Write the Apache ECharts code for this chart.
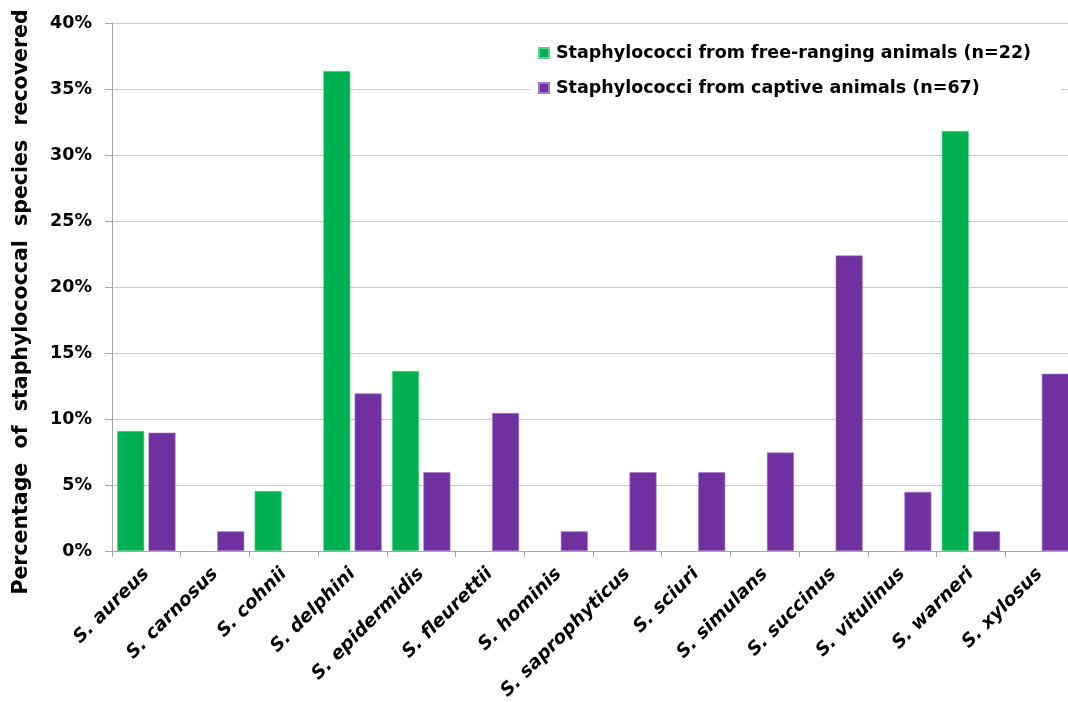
<!DOCTYPE html>
<html>
<head>
<meta charset="utf-8">
<script src="https://cdn.jsdelivr.net/npm/echarts@6/dist/echarts.min.js"></script>
<style>
  html, body { margin: 0; padding: 0; background: #fff; }
  #chart { width: 1068px; height: 702px; }
</style>
</head>
<body>
<div id="chart"></div>
<script>
// Staphylococcal species recovered from free-ranging vs captive animals
const categories = [
  'S. aureus', 'S. carnosus', 'S. cohnii', 'S. delphini', 'S. epidermidis',
  'S. fleurettii', 'S. hominis', 'S. saprophyticus', 'S. sciuri', 'S. simulans',
  'S. succinus', 'S. vitulinus', 'S. warneri', 'S. xylosus'
];
// percentages (%)
const freeRanging = [9.09, 0, 4.55, 36.36, 13.64, 0, 0, 0, 0, 0, 0, 0, 31.82, 0];
const captive = [8.96, 1.49, 0, 11.94, 5.97, 10.45, 1.49, 5.97, 5.97, 7.46, 22.39, 4.48, 1.49, 13.43];
const seriesNames = [
  'Staphylococci from free-ranging animals (n=22)',
  'Staphylococci from captive animals (n=67)'
];
const yTicks = [0, 5, 10, 15, 20, 25, 30, 35, 40];

const FONT = '"DejaVu Sans", "Liberation Sans", Arial, sans-serif';
const chart = echarts.init(document.getElementById('chart'), null, { renderer: 'canvas' });

const toBars = arr => arr.map(v => (v === 0 ? null : v));

chart.setOption({
  animation: false,
  backgroundColor: '#ffffff',
  textStyle: { fontFamily: FONT },
  grid: {
    left: 112, top: 23, bottom: 151, right: -6,
    containLabel: false,
    outerBoundsMode: 'none'
  },
  legend: {
    orient: 'vertical',
    left: 530,
    top: 38,
    padding: [6, 30, 6, 8],
    backgroundColor: '#ffffff',
    icon: 'rect',
    itemWidth: 10,
    itemHeight: 10,
    itemGap: 17,
    textStyle: { fontFamily: FONT, fontWeight: 'bold', fontSize: 17.5, color: '#000', padding: [0, 0, 0, 2] },
    data: seriesNames
  },
  xAxis: {
    type: 'category',
    data: categories,
    axisLine: { lineStyle: { color: '#a6a6a6', width: 1 } },
    axisTick: { show: true, length: 6, lineStyle: { color: '#a6a6a6' } },
    axisLabel: {
      rotate: 45,
      interval: 0,
      margin: 20,
      fontFamily: FONT,
      fontStyle: 'italic',
      fontWeight: 'bold',
      fontSize: 18.5,
      color: '#000'
    }
  },
  yAxis: {
    type: 'value',
    min: yTicks[0],
    max: yTicks[yTicks.length - 1],
    interval: 5,
    name: 'Percentage  of  staphylococcal  species  recovered',
    nameLocation: 'middle',
    nameGap: 80,
    nameTextStyle: {
      fontFamily: FONT, fontWeight: 'bold', fontSize: 20.5, color: '#000',
      padding: [0, 30, 0, 0]
    },
    axisLine: { show: true, lineStyle: { color: '#a6a6a6', width: 1 } },
    axisTick: { show: true, length: 7, lineStyle: { color: '#a6a6a6' } },
    splitLine: { show: true, lineStyle: { color: '#c8c8c8', width: 1 } },
    axisLabel: {
      margin: 20,
      fontFamily: FONT,
      fontWeight: 'bold',
      fontSize: 17.5,
      color: '#000',
      formatter: v => v + '%'
    }
  },
  series: [
    {
      name: seriesNames[0],
      type: 'bar',
      data: toBars(freeRanging),
      barWidth: 27,
      barGap: '16%',
      itemStyle: { color: '#00b050', borderColor: '#5fd08f', borderWidth: 0.6 }
    },
    {
      name: seriesNames[1],
      type: 'bar',
      data: toBars(captive),
      barWidth: 27,
      barGap: '16%',
      itemStyle: { color: '#7030a0', borderColor: '#a67cc4', borderWidth: 0.6 }
    }
  ]
});
</script>
</body>
</html>
